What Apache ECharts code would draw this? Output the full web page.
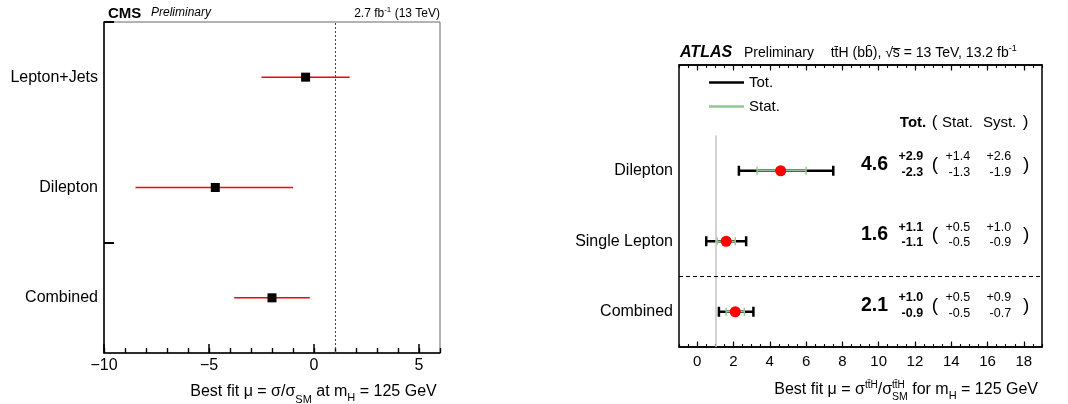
<!DOCTYPE html>
<html><head><meta charset="utf-8">
<script src="https://cdn.jsdelivr.net/npm/echarts@6/dist/echarts.min.js"></script>
<style>html,body{margin:0;padding:0;background:#fff}#c{width:1068px;height:404px}</style>
</head><body><div id="c"></div>
<script>
const FONT = '"Liberation Sans", Arial, Helvetica, sans-serif';

// ---------- CMS panel data ----------
const cmsCategories = ['Lepton+Jets', 'Dilepton', 'Combined'];
const cmsMu = [-0.4, -4.7, -2.0];
const cmsErrUp = [2.1, 3.7, 1.8];
const cmsErrDown = [2.1, 3.8, 1.8];
const cmsTickLabels = [-10, -5, 0, 5];
const cmsReference = 1;

// ---------- ATLAS panel data ----------
const atlasCategories = ['Dilepton', 'Single Lepton', 'Combined'];
const atlasMu = [4.6, 1.6, 2.1];
const atlasTotUp = [2.9, 1.1, 1.0];
const atlasTotDown = [2.3, 1.1, 0.9];
const atlasStatUp = [1.4, 0.5, 0.5];
const atlasStatDown = [1.3, 0.5, 0.5];
const atlasSystUp = [2.6, 1.0, 0.9];
const atlasSystDown = [1.9, 0.9, 0.7];
const atlasTickLabels = [0, 2, 4, 6, 8, 10, 12, 14, 16, 18];
const atlasReference = 1;

const rowY = i => 2.5 - i;
const cmsMinor = []; for (let v = -10; v <= 6; v++) cmsMinor.push(v);
const atlasMinor = []; for (let k = -2; k <= 38; k++) atlasMinor.push(k / 2);

const minus = v => (v < 0 ? '\u2212' + Math.abs(v) : String(v));
const GREEN = '#92c692';

// text composition helper (sub/superscripts)
const mctx = document.createElement('canvas').getContext('2d');
const fnt = (size, style) => (style ? style + ' ' : '') + size + 'px ' + FONT;
function measure(text, font) { mctx.font = font; return mctx.measureText(text).width; }
function compose(anchorX, align, yMid, pieces) {
  const adv = pieces.map(p => p.noAdvance ? 0 : measure(p.text, p.font));
  const total = adv.reduce((a, b) => a + b, 0);
  let x = align === 'right' ? anchorX - total : anchorX;
  return pieces.map((p, i) => {
    const el = {type: 'text', x: x, y: yMid + (p.dy || 0), silent: true,
      style: {text: p.text, font: p.font, fill: '#000', align: 'left', verticalAlign: 'middle'}};
    x += adv[i];
    return el;
  });
}

const chart = echarts.init(document.getElementById('c'), null, {renderer: 'canvas'});

const hiddenAxisBits = {axisLine: {show: false, onZero: false}, axisLabel: {show: false}, splitLine: {show: false}};

const graphics = [].concat(
  [
    {type: 'text', left: 108, top: 6, style: {text: 'CMS', font: fnt(15, 'bold'), fill: '#000'}},
    {type: 'text', left: 151, top: 7, style: {text: 'Preliminary', font: fnt(12, 'italic'), fill: '#000'}},
    {type: 'text', left: 680, top: 45, style: {text: 'ATLAS', font: fnt(16, 'italic bold'), fill: '#000'}},
    {type: 'text', left: 744, top: 46, style: {text: 'Preliminary', font: fnt(14), fill: '#000'}}
  ],
  compose(440, 'right', 14, [
    {text: '2.7 fb', font: fnt(12)},
    {text: '-1', font: fnt(8), dy: -4},
    {text: ' (13 TeV)', font: fnt(12)}
  ]),
  compose(830.7, 'left', 53.5, [
    {text: 'tt\u0304H (bb\u0304), \u221as\u0305 = 13 TeV, 13.2 fb', font: fnt(14)},
    {text: '-1', font: fnt(9), dy: -5}
  ]),
  compose(436.7, 'right', 392, [
    {text: 'Best fit \u03bc = \u03c3/\u03c3', font: fnt(16)},
    {text: 'SM', font: fnt(11), dy: 8},
    {text: ' at m', font: fnt(16)},
    {text: 'H', font: fnt(11), dy: 5.5},
    {text: ' = 125 GeV', font: fnt(16)}
  ]),
  compose(1038, 'right', 389.5, [
    {text: 'Best fit \u03bc = \u03c3', font: fnt(16)},
    {text: 'tt\u0304H', font: fnt(10), dy: -4.5},
    {text: '/\u03c3', font: fnt(16)},
    {text: 'tt\u0304H', font: fnt(10), dy: -4.5, noAdvance: true},
    {text: 'SM', font: fnt(10.5), dy: 7.5},
    {text: ' for m', font: fnt(16)},
    {text: 'H', font: fnt(11), dy: 6.5},
    {text: ' = 125 GeV', font: fnt(16)}
  ])
);

const option = {
  animation: false,
  backgroundColor: '#fff',
  textStyle: {fontFamily: FONT},
  grid: [
    {left: 104, top: 22, width: 336, height: 331, show: true, borderColor: '#666', borderWidth: 1, backgroundColor: 'transparent'},
    {left: 679, top: 65, width: 363, height: 282, show: true, borderColor: '#000', borderWidth: 1.5, backgroundColor: 'transparent'},
    {left: 104, top: 22, width: 336, height: 331},
    {left: 679, top: 65, width: 363, height: 282}
  ],
  xAxis: [
    { // 0 CMS main
      type: 'value', gridIndex: 0, min: -10, max: 6, position: 'bottom',
      axisLine: {show: true, onZero: false, lineStyle: {color: '#000', width: 1.5}},
      axisTick: {show: true, inside: true, length: 9, customValues: cmsTickLabels, lineStyle: {color: '#000', width: 1.5}},
      axisLabel: {show: true, customValues: cmsTickLabels, formatter: minus, fontSize: 16, color: '#000', margin: 5, fontFamily: FONT},
      splitLine: {show: false}
    },
    { // 1 CMS minor ticks (overlay grid)
      type: 'value', gridIndex: 2, min: -10, max: 6, position: 'bottom', ...hiddenAxisBits,
      axisTick: {show: true, inside: true, length: 5, customValues: cmsMinor, lineStyle: {color: '#000', width: 1.2}}
    },
    { // 2 ATLAS main bottom
      type: 'value', gridIndex: 1, min: -1, max: 19, position: 'bottom',
      axisLine: {show: true, onZero: false, lineStyle: {color: '#000', width: 1.5}},
      axisTick: {show: true, inside: true, length: 5.5, customValues: atlasTickLabels, lineStyle: {color: '#000', width: 1.2}},
      axisLabel: {show: true, customValues: atlasTickLabels, fontSize: 15, color: '#000', margin: 7, fontFamily: FONT},
      splitLine: {show: false}
    },
    { // 3 ATLAS top majors
      type: 'value', gridIndex: 1, min: -1, max: 19, position: 'top',
      axisLine: {show: true, onZero: false, lineStyle: {color: '#000', width: 1.5}},
      axisTick: {show: true, inside: true, length: 5.5, customValues: atlasTickLabels, lineStyle: {color: '#000', width: 1.2}},
      axisLabel: {show: false}, splitLine: {show: false}
    },
    { // 4 ATLAS bottom minors
      type: 'value', gridIndex: 3, min: -1, max: 19, position: 'bottom', ...hiddenAxisBits,
      axisTick: {show: true, inside: true, length: 3, customValues: atlasMinor, lineStyle: {color: '#000', width: 1.1}}
    },
    { // 5 ATLAS top minors
      type: 'value', gridIndex: 3, min: -1, max: 19, position: 'top', ...hiddenAxisBits,
      axisTick: {show: true, inside: true, length: 3, customValues: atlasMinor, lineStyle: {color: '#000', width: 1.1}}
    },
    { // 6 CMS minor ticks (second x axis of grid 0, shifted down onto the bottom edge)
      type: 'value', gridIndex: 0, min: -10, max: 6, position: 'top', offset: -331, ...hiddenAxisBits,
      axisTick: {show: true, inside: false, length: 5, customValues: cmsMinor, lineStyle: {color: '#000', width: 1.2}}
    }
  ],
  yAxis: [
    { // 0 CMS
      type: 'value', gridIndex: 0, min: 0, max: 3, position: 'left',
      axisLine: {show: true, onZero: false, lineStyle: {color: '#000', width: 1.5}},
      axisTick: {show: true, inside: true, length: 10, customValues: [1, 3], lineStyle: {color: '#000', width: 2}},
      axisLabel: {show: true, customValues: cmsCategories.map((c, i) => rowY(i)),
        formatter: v => cmsCategories[Math.round(2.5 - v)], fontSize: 16, color: '#000', margin: 6, fontFamily: FONT},
      splitLine: {show: false}
    },
    {type: 'value', gridIndex: 2, min: 0, max: 3, show: false, axisLine: {onZero: false}},
    { // 2 ATLAS
      type: 'value', gridIndex: 1, min: 0, max: 4, position: 'left',
      axisLine: {show: false, onZero: false}, axisTick: {show: false},
      axisLabel: {show: true, customValues: atlasCategories.map((c, i) => rowY(i)),
        formatter: v => atlasCategories[Math.round(2.5 - v)], fontSize: 16, color: '#000', margin: 6, fontFamily: FONT},
      splitLine: {show: false}
    },
    {type: 'value', gridIndex: 3, min: 0, max: 4, show: false, axisLine: {onZero: false}}
  ],
  legend: {
    data: ['Tot.', 'Stat.'], orient: 'vertical', left: 704, top: 69, icon: 'rect',
    itemWidth: 35, itemHeight: 2.5, itemGap: 7, selectedMode: false,
    textStyle: {fontSize: 15, color: '#000', fontFamily: FONT, lineHeight: 17}
  },
  series: [
    { // CMS error bars
      type: 'custom', name: 'cmsErr', xAxisIndex: 0, yAxisIndex: 0,
      data: cmsCategories.map((c, i) => [cmsMu[i] - cmsErrDown[i], cmsMu[i] + cmsErrUp[i], rowY(i)]),
      encode: {x: [0, 1], y: 2},
      renderItem: (params, api) => {
        const a = api.coord([api.value(0), api.value(2)]);
        const b = api.coord([api.value(1), api.value(2)]);
        return {type: 'line', shape: {x1: a[0], y1: a[1], x2: b[0], y2: b[1]}, style: {stroke: '#ff0000', lineWidth: 1.5}};
      },
      markLine: {
        silent: true, symbol: 'none', label: {show: false},
        lineStyle: {color: '#444', type: [2, 2], width: 1},
        data: [{xAxis: cmsReference}]
      }
    },
    { // CMS central values
      type: 'scatter', name: 'cmsMu', xAxisIndex: 0, yAxisIndex: 0,
      symbol: 'rect', symbolSize: 9, itemStyle: {color: '#000', opacity: 1}, z: 5,
      data: cmsCategories.map((c, i) => [cmsMu[i], rowY(i)])
    },
    { // ATLAS total
      type: 'custom', name: 'Tot.', xAxisIndex: 2, yAxisIndex: 2,
      itemStyle: {color: '#000'},
      data: atlasCategories.map((c, i) => [atlasMu[i] - atlasTotDown[i], atlasMu[i] + atlasTotUp[i], rowY(i)]),
      encode: {x: [0, 1], y: 2},
      renderItem: (params, api) => {
        const a = api.coord([api.value(0), api.value(2)]);
        const b = api.coord([api.value(1), api.value(2)]);
        const h = 5, st = {stroke: '#000', lineWidth: 2.5};
        return {type: 'group', children: [
          {type: 'line', shape: {x1: a[0], y1: a[1], x2: b[0], y2: b[1]}, style: st},
          {type: 'line', shape: {x1: a[0], y1: a[1] - h, x2: a[0], y2: a[1] + h}, style: st},
          {type: 'line', shape: {x1: b[0], y1: b[1] - h, x2: b[0], y2: b[1] + h}, style: st}
        ]};
      },
      markLine: {
        silent: true, symbol: 'none', label: {show: false},
        lineStyle: {color: '#c4c4c4', type: 'solid', width: 1.5},
        data: [[{coord: [atlasReference, 0]}, {coord: [atlasReference, 3]}]]
      }
    },
    { // ATLAS stat
      type: 'custom', name: 'Stat.', xAxisIndex: 2, yAxisIndex: 2,
      itemStyle: {color: GREEN},
      data: atlasCategories.map((c, i) => [atlasMu[i] - atlasStatDown[i], atlasMu[i] + atlasStatUp[i], rowY(i)]),
      encode: {x: [0, 1], y: 2},
      renderItem: (params, api) => {
        const a = api.coord([api.value(0), api.value(2)]);
        const b = api.coord([api.value(1), api.value(2)]);
        const h = 4, st = {stroke: GREEN, lineWidth: 1.5};
        return {type: 'group', children: [
          {type: 'line', shape: {x1: a[0], y1: a[1], x2: b[0], y2: b[1]}, style: st},
          {type: 'line', shape: {x1: a[0], y1: a[1] - h, x2: a[0], y2: a[1] + h}, style: st},
          {type: 'line', shape: {x1: b[0], y1: b[1] - h, x2: b[0], y2: b[1] + h}, style: st}
        ]};
      },
      markLine: {
        silent: true, symbol: 'none', label: {show: false},
        lineStyle: {color: '#000', type: [4, 3], width: 1.2},
        data: [{yAxis: 1}]
      }
    },
    { // ATLAS central values
      type: 'scatter', name: 'atlasMu', xAxisIndex: 2, yAxisIndex: 2,
      symbol: 'circle', symbolSize: 11, itemStyle: {color: '#ff0000', opacity: 1}, z: 5,
      data: atlasCategories.map((c, i) => [atlasMu[i], rowY(i)])
    },
    { // ATLAS numeric annotations
      type: 'custom', name: 'atlasText', xAxisIndex: 2, yAxisIndex: 2,
      data: atlasCategories.map((c, i) => [atlasMu[i], rowY(i)]),
      encode: {x: 0, y: 1},
      renderItem: (params, api) => {
        const i = params.dataIndex;
        const y = api.value(1);
        const px = xv => api.coord([xv, y])[0];
        const yc = api.coord([0, y])[1] - 6.3;
        const t = (text, x, yy, font, align) => ({type: 'text', style: {text, x, y: yy, font, align, verticalAlign: 'middle', fill: '#000'}});
        const fB = fnt(12.5, 'bold'), fN = fnt(12.5);
        return {type: 'group', children: [
          t(atlasMu[i].toFixed(1), px(10.52), yc, fnt(19.5, 'bold'), 'right'),
          t('+' + atlasTotUp[i].toFixed(1), px(12.45), yc - 7.5, fB, 'right'),
          t('-' + atlasTotDown[i].toFixed(1), px(12.45), yc + 8, fB, 'right'),
          t('(', px(12.93), yc, fnt(19), 'left'),
          t('+' + atlasStatUp[i].toFixed(1), px(15.04), yc - 7.5, fN, 'right'),
          t('-' + atlasStatDown[i].toFixed(1), px(15.04), yc + 8, fN, 'right'),
          t('+' + atlasSystUp[i].toFixed(1), px(17.3), yc - 7.5, fN, 'right'),
          t('-' + atlasSystDown[i].toFixed(1), px(17.3), yc + 8, fN, 'right'),
          t(')', px(17.96), yc, fnt(19), 'left')
        ]};
      }
    },
    { // ATLAS column header
      type: 'custom', name: 'atlasHeader', xAxisIndex: 2, yAxisIndex: 2,
      data: [[0, 3.18]], encode: {x: 0, y: 1},
      renderItem: (params, api) => {
        const y = api.value(1);
        const px = xv => api.coord([xv, y])[0];
        const yc = api.coord([0, y])[1];
        const t = (text, x, font, align) => ({type: 'text', style: {text, x, y: yc, font, align, verticalAlign: 'middle', fill: '#000'}});
        return {type: 'group', children: [
          t('Tot.', px(12.62), fnt(15, 'bold'), 'right'),
          t('(', px(12.93), fnt(17), 'left'),
          t('Stat.', px(15.19), fnt(15), 'right'),
          t('Syst.', px(17.58), fnt(15), 'right'),
          t(')', px(17.94), fnt(17), 'left')
        ]};
      }
    }
  ],
  graphic: graphics
};
chart.setOption(option);
</script></body></html>
